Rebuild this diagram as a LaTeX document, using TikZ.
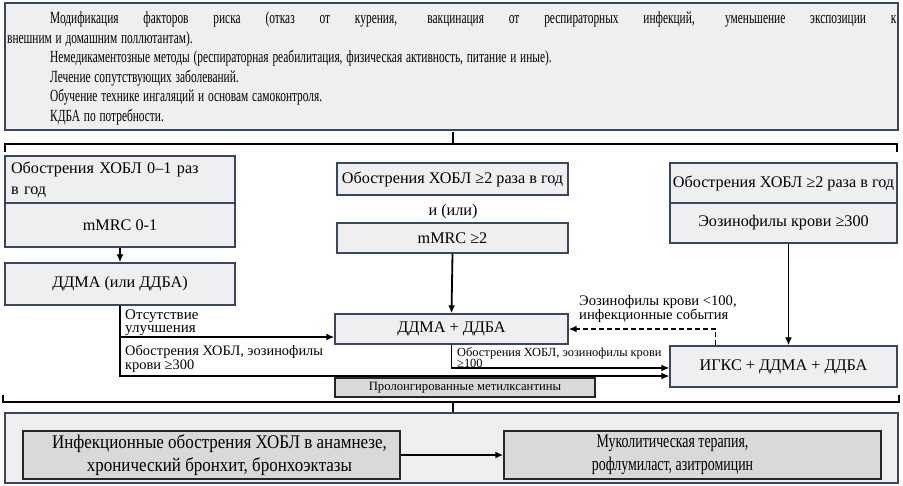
\documentclass[tikz,border=0pt]{standalone}
\usepackage{fontspec}
\usepackage{graphicx}
\setmainfont{Liberation Serif}
\newfontfamily\semifont{Liberation Serif}[FakeStretch=0.88]
\newfontfamily\narrowfont{Liberation Serif}[FakeStretch=0.72]
\usetikzlibrary{arrows.meta}
\definecolor{boxfill}{RGB}{239,239,242}
\definecolor{boxline}{RGB}{58,70,98}
\definecolor{darkfill}{RGB}{217,217,217}
\newcommand{\tline}[1]{\scalebox{0.67}[1]{#1}}
\tikzset{
  box/.style={draw=boxline, line width=1.4pt, fill=boxfill, inner sep=0pt,
    align=center, font=\fontsize{16.2}{18}\selectfont},
  bigbox/.style={draw=boxline, line width=1.8pt, fill=boxfill, inner sep=0pt},
  dbox/.style={draw=black!85, line width=1.4pt, fill=darkfill, inner sep=0pt, align=center},
  arr/.style={-{Latex[length=8pt,width=7pt]}, line width=1.8pt},
  thinarr/.style={-{Latex[length=8pt,width=7pt]}, line width=1.4pt},
  darr/.style={-{Latex[length=8pt,width=7pt]}, line width=1.5pt, dash pattern=on 5pt off 3pt},
  bracel/.style={line width=1.1pt},
  lbl/.style={inner sep=0pt, align=left, anchor=north west}
}
\begin{document}
\begin{tikzpicture}[x=1pt,y=-1pt]
\useasboundingbox (0,0) rectangle (903,485);
% top box
\node[bigbox, minimum width=893pt, minimum height=127pt, anchor=north west] (top) at (4,2) {};
\node[inner sep=0pt, anchor=north west, text width=889pt, align=left,
  font=\fontsize{17}{19.5}\selectfont] (toptext) at (7,12) {%
\hspace*{43pt}\tline{\hbox to 1263pt{\spaceskip=0.25em plus 1fil\relax Модификация факторов риска (отказ от курения, вакцинация от респираторных инфекций, уменьшение экспозиции к}}\\
\tline{внешним и домашним поллютантам).}\\
\hspace*{43pt}\tline{Немедикаментозные методы (респираторная реабилитация, физическая активность, питание и иные).}\\
\hspace*{43pt}\tline{Лечение сопутствующих заболеваний.}\\
\hspace*{43pt}\tline{Обучение технике ингаляций и основам самоконтроля.}\\
\hspace*{43pt}\tline{КДБА по потребности.}};
% top brace
\coordinate (tb1) at (5,152);
\coordinate (tb2) at (897,152);
\coordinate (tbm) at (453,144);
\draw[bracel] (tb1) -- (5,144) -- (897,144) -- (tb2);
\draw[bracel] (453,132) -- (tbm);
% left column
\node[box, minimum width=230pt, minimum height=48pt, text width=218pt, align=left,
  font=\fontsize{16.2}{21}\selectfont] (a1) at (120,180) {Обострения ХОБЛ 0–1 раз\\в год};
\node[box, minimum width=230pt, minimum height=44pt] (a2) at (120,225) {mMRC 0-1};
\node[box, minimum width=230pt, minimum height=42pt] (a3) at (120,284) {ДДМА (или ДДБА)};
% middle column
\node[box, minimum width=231pt, minimum height=32pt] (b1) at (452.5,179) {Обострения ХОБЛ ≥2 раза в год};
\node[inner sep=0pt, font=\fontsize{16.2}{18}\selectfont] (b0) at (453,212) {и (или)};
\node[box, minimum width=231pt, minimum height=30pt] (b2) at (452.5,238) {mMRC ≥2};
\node[box, minimum width=233pt, minimum height=30pt] (b3) at (451.5,329) {ДДМА + ДДБА};
% right column
\node[box, minimum width=227pt, minimum height=40pt] (c1) at (783.5,183) {Обострения ХОБЛ ≥2 раза в год};
\node[box, minimum width=227pt, minimum height=40pt] (c2) at (783.5,223) {Эозинофилы крови ≥300};
\node[box, minimum width=227pt, minimum height=41pt] (c3) at (783.5,366.5) {ИГКС + ДДМА + ДДБА};
% methylxanthines
\node[dbox, minimum width=260pt, minimum height=19pt, font=\fontsize{12.7}{15}\selectfont] (m) at (465,387.5) {Пролонгированные метилксантины};
% connectors
\draw[arr] (a2.south) -- (a3.north);
\draw[arr] (b2.south) -- (b3.north);
\draw[arr] ([xshift=5pt]c2.south) -- ([xshift=5pt]c3.north);
\coordinate (j1) at (120,337);
\coordinate (j2) at (120,376);
\draw[thinarr] (a3.south) -- (j2) -- (j2 -| c3.west);
\draw[thinarr] (j1) -- (j1 -| b3.west);
\draw[thinarr] (b3.south) |- ([yshift=-1.5pt]c3.west);
\draw[darr] ([xshift=46pt]c3.north west) |- (b3.east);
% labels
\node[lbl, font=\fontsize{15}{13.5}\selectfont] (l1) at (125,309) {Отсутствие\\улучшения};
\node[lbl, font=\fontsize{14.4}{14}\selectfont] (l2) at (125,345) {Обострения ХОБЛ, эозинофилы\\крови ≥300};
\node[lbl, font=\fontsize{12.4}{10}\selectfont] (l3) at (457,347) {Обострения ХОБЛ, эозинофилы крови\\≥100};
\node[lbl, font=\fontsize{14.6}{13}\selectfont] (l4) at (579,295) {Эозинофилы крови <100,\\инфекционные события};
% bottom brace
\coordinate (bb1) at (3,395);
\coordinate (bb2) at (899,395);
\coordinate (bbm) at (453,402);
\draw[bracel] (bb1) -- (3,402) -- (899,402) -- (bb2);
% bottom box
\node[bigbox, minimum width=893pt, minimum height=70pt] (bot) at (451.5,448) {};
\draw[bracel] (bbm) -- (bot.north -| bbm);
\node[dbox, minimum width=377pt, minimum height=48pt, font=\semifont\fontsize{19.3}{23}\selectfont] (d1) at (211.5,455) {\hspace*{16pt}Инфекционные обострения ХОБЛ в анамнезе,\\\hspace*{16pt}хронический бронхит, бронхоэктазы};
\node[dbox, minimum width=377pt, minimum height=48pt, font=\narrowfont\fontsize{19.3}{23}\selectfont] (d2) at (692.5,455) {Муколитическая терапия,\hspace*{40pt}\\рофлумиласт, азитромицин\hspace*{40pt}};
\draw[arr] (d1.east) -- (d2.west);
\end{tikzpicture}
\end{document}
